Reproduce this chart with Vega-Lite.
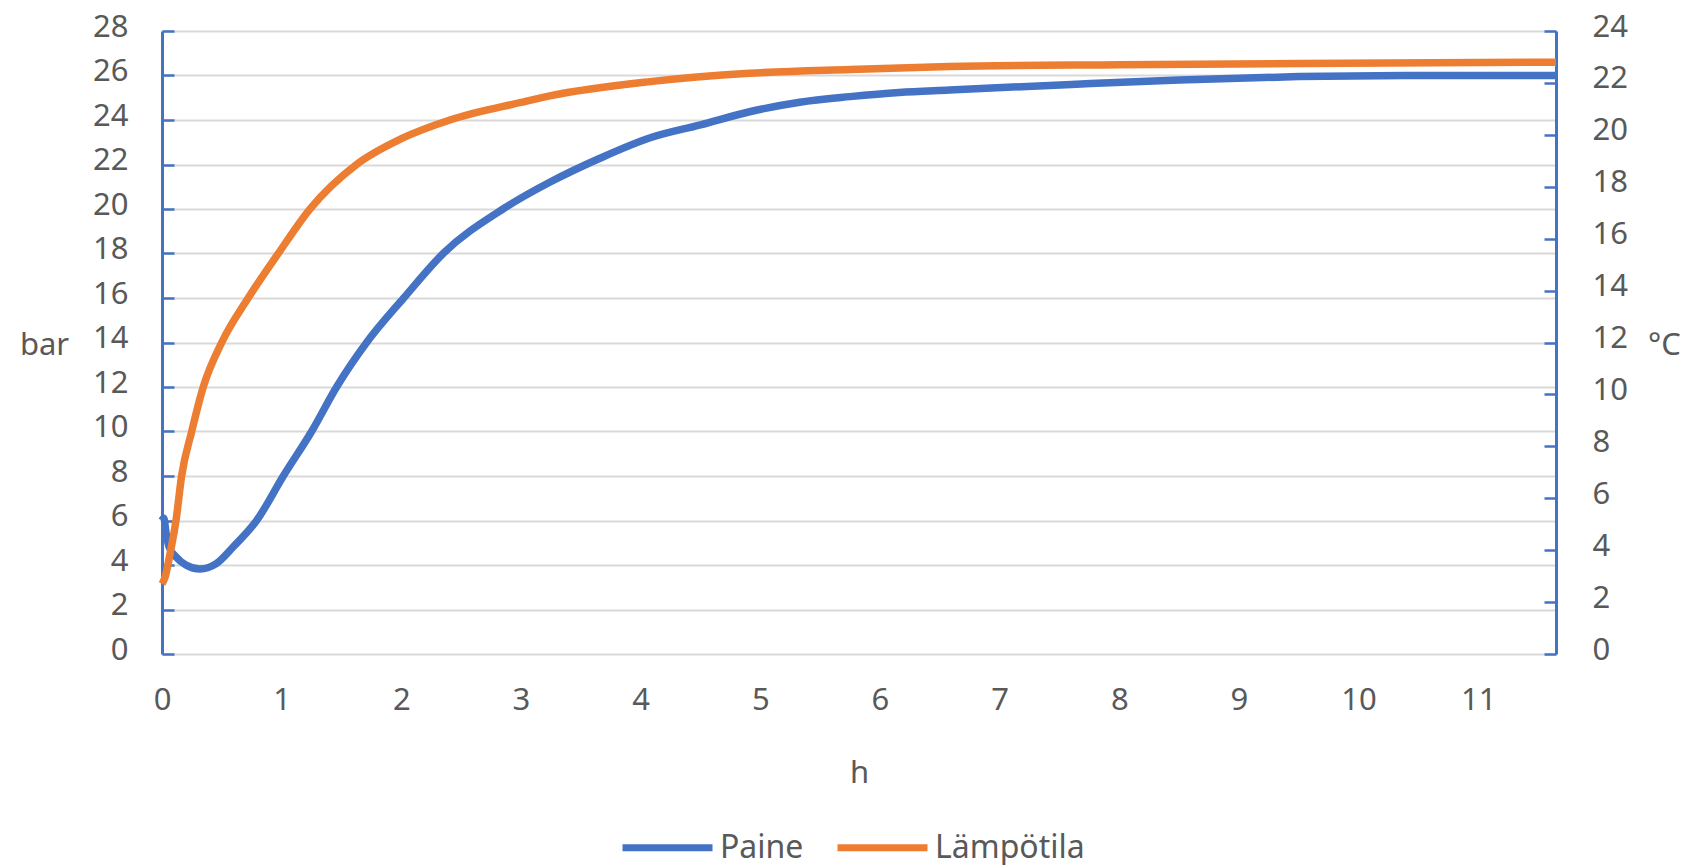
{
  "$schema": "https://vega.github.io/schema/vega-lite/v6.json",
  "autosize": "none",
  "width": 1394,
  "height": 623,
  "padding": {"left": 162, "top": 31, "right": 132, "bottom": 211},
  "background": "white",
  "config": {
    "view": {"stroke": null},
    "font": "Noto Sans",
    "axis": {"labelFont": "Noto Sans", "titleFont": "Noto Sans", "labelColor": "#595959", "titleColor": "#595959", "labelFontSize": 31, "titleFontSize": 31, "titleFontWeight": "normal"},
    "legend": {"labelFont": "Noto Sans", "labelColor": "#595959", "labelFontSize": 32}
  },
  "datasets": {
    "paine": [
      {"t": 0, "v": 6.0},
      {"t": 0.015, "v": 6.1},
      {"t": 0.035, "v": 5.4},
      {"t": 0.06, "v": 4.8},
      {"t": 0.12, "v": 4.35},
      {"t": 0.2, "v": 4.0},
      {"t": 0.317, "v": 3.82},
      {"t": 0.45, "v": 4.05},
      {"t": 0.596, "v": 4.82},
      {"t": 0.791, "v": 6.0},
      {"t": 1.014, "v": 8.0},
      {"t": 1.25, "v": 10.0},
      {"t": 1.459, "v": 12.0},
      {"t": 1.71, "v": 14.0},
      {"t": 2.02, "v": 16.0},
      {"t": 2.35, "v": 18.0},
      {"t": 2.85, "v": 20.0},
      {"t": 3.24, "v": 21.2},
      {"t": 3.66, "v": 22.28},
      {"t": 4.08, "v": 23.2},
      {"t": 4.5, "v": 23.78},
      {"t": 4.91, "v": 24.37},
      {"t": 5.33, "v": 24.8},
      {"t": 5.75, "v": 25.05},
      {"t": 6.16, "v": 25.24},
      {"t": 6.58, "v": 25.35},
      {"t": 7.6, "v": 25.6},
      {"t": 8.5, "v": 25.8},
      {"t": 9.5, "v": 25.95},
      {"t": 10.5, "v": 26.0},
      {"t": 11.65, "v": 26.0}
    ],
    "lampotila": [
      {"t": 0, "v": 2.7},
      {"t": 0.025, "v": 2.95},
      {"t": 0.067, "v": 3.86},
      {"t": 0.117, "v": 5.14},
      {"t": 0.164, "v": 6.86},
      {"t": 0.248, "v": 8.57},
      {"t": 0.345, "v": 10.29},
      {"t": 0.499, "v": 12.0},
      {"t": 0.72, "v": 13.71},
      {"t": 0.972, "v": 15.43},
      {"t": 1.236, "v": 17.14},
      {"t": 1.626, "v": 18.86},
      {"t": 2.0, "v": 19.85},
      {"t": 2.406, "v": 20.57},
      {"t": 3.0, "v": 21.25},
      {"t": 3.24, "v": 21.5},
      {"t": 4.08, "v": 22.05},
      {"t": 4.91, "v": 22.37},
      {"t": 5.75, "v": 22.52},
      {"t": 6.58, "v": 22.63},
      {"t": 8.0, "v": 22.7},
      {"t": 9.5, "v": 22.75},
      {"t": 11.65, "v": 22.8}
    ]
  },
  "layer": [
    {
      "data": {"name": "paine"},
      "mark": {"type": "line", "strokeWidth": 7.5, "interpolate": "monotone"},
      "encoding": {
        "x": {"field": "t", "type": "quantitative", "scale": {"domain": [0, 11.65], "nice": false, "zero": false},
          "axis": {"values": [0,1,2,3,4,5,6,7,8,9,10,11], "format": "d", "labelFlush": false, "grid": false, "domain": false, "ticks": false, "labelPadding": 31, "title": "h", "titleY": 128, "titleBaseline": "alphabetic", "titlePadding": 0}},
        "y": {"field": "v", "type": "quantitative", "scale": {"domain": [0, 28], "nice": false},
          "axis": {"values": [0,2,4,6,8,10,12,14,16,18,20,22,24,26,28], "grid": true, "gridColor": "#D9D9D9", "gridWidth": 2, "domainColor": "#4472C4", "domainWidth": 3, "tickColor": "#4472C4", "tickWidth": 2.5, "tickSize": -12, "labelPadding": 46, "labelOffset": -4, "title": "bar", "titleAngle": 0, "titleX": -118, "titleY": 314, "titleAlign": "center", "titleBaseline": "middle"}},
        "color": {"datum": "Paine", "type": "nominal",
          "scale": {"domain": ["Paine", "Lämpötila"], "range": ["#4472C4", "#ED7D31"]},
          "legend": {"title": null, "orient": "none", "legendX": 457, "legendY": 768, "direction": "horizontal", "symbolType": "stroke", "symbolSize": 8100, "symbolStrokeWidth": 7, "labelOffset": 4, "columnPadding": 19, "padding": 0}}
      }
    },
    {
      "data": {"name": "lampotila"},
      "mark": {"type": "line", "strokeWidth": 7.5, "interpolate": "monotone"},
      "encoding": {
        "x": {"field": "t", "type": "quantitative"},
        "y": {"field": "v", "type": "quantitative", "scale": {"domain": [0, 24], "nice": false},
          "axis": {"orient": "right", "values": [0,2,4,6,8,10,12,14,16,18,20,22,24], "grid": false, "domainColor": "#4472C4", "domainWidth": 3, "tickColor": "#4472C4", "tickWidth": 2.5, "tickSize": -12, "labelPadding": 48, "labelOffset": -4, "title": "°C", "titleAngle": 0, "titleX": 108, "titleY": 314, "titleAlign": "center", "titleBaseline": "middle"}},
        "color": {"datum": "Lämpötila", "type": "nominal"}
      }
    }
  ],
  "resolve": {"scale": {"y": "independent"}}
}
